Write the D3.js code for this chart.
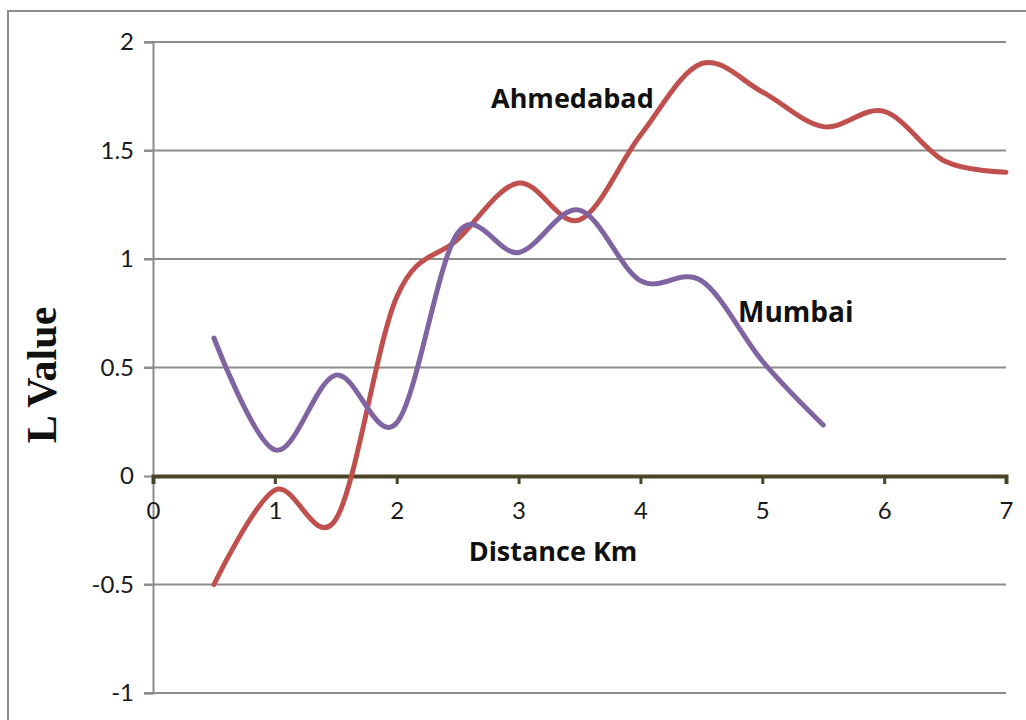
<!DOCTYPE html>
<html>
<head>
<meta charset="utf-8">
<script src="https://cdn.jsdelivr.net/npm/d3@7"></script>
<style>
  html, body { margin: 0; padding: 0; background: #fff; }
  svg { display: block; }
</style>
</head>
<body>
<svg id="chart" width="1026" height="720"></svg>
<script>
// Distance (km) at which the L function was evaluated
const distances = [0.5, 1, 1.5, 2, 2.5, 3, 3.5, 4, 4.5, 5, 5.5, 6, 6.5, 7];
// L values for each city
const ahmedabad = [-0.5, -0.065, -0.2, 0.825, 1.09, 1.35, 1.18, 1.57, 1.9, 1.77, 1.61, 1.68, 1.45, 1.4];
const mumbai = [0.636, 0.12, 0.465, 0.245, 1.12, 1.03, 1.225, 0.9, 0.9, 0.53, 0.235];
const xTicks = [0, 1, 2, 3, 4, 5, 6, 7];
const yTicks = [-1, -0.5, 0, 0.5, 1, 1.5, 2];

const svg = d3.select("#chart");

// outer frame
svg.append("rect")
  .attr("x", 8).attr("y", 11).attr("width", 1040).attr("height", 740)
  .attr("fill", "none").attr("stroke", "#8c8c8c").attr("stroke-width", 2);

const x = d3.scaleLinear().domain([0, 7]).range([153, 1006]);
const y = d3.scaleLinear().domain([-1, 2]).range([693, 42]);

// horizontal gridlines
svg.append("g")
  .selectAll("line")
  .data(yTicks.filter(d => d !== 0))
  .join("line")
  .attr("x1", x(0) - 9).attr("x2", x(7))
  .attr("y1", d => y(d)).attr("y2", d => y(d))
  .attr("stroke", "#8c8c8c").attr("stroke-width", 2);

// y axis
const yAxis = d3.axisLeft(y).tickValues(yTicks).tickSize(9).tickPadding(10)
  .tickFormat(d => String(d));
const gy = svg.append("g").attr("transform", `translate(${x(0)},0)`).call(yAxis);
gy.select(".domain").attr("stroke", "#8c8c8c").attr("stroke-width", 2);
gy.selectAll(".tick line").attr("stroke", "#8c8c8c").attr("stroke-width", 2);
gy.selectAll(".tick text")
  .attr("font-family", "Lato, 'Open Sans', sans-serif")
  .attr("font-size", 24).attr("fill", "#1a1a1a");

// x axis along y = 0
const xAxis = d3.axisBottom(x).tickValues(xTicks).tickSize(8).tickPadding(18)
  .tickFormat(d => String(d));
const gx = svg.append("g").attr("transform", `translate(0,${y(0)})`).call(xAxis);
gx.select(".domain").attr("stroke", "#4a4526").attr("stroke-width", 4);
gx.selectAll(".tick line").attr("stroke", "#4a4526").attr("stroke-width", 3);
gx.selectAll(".tick text")
  .attr("font-family", "Lato, 'Open Sans', sans-serif")
  .attr("font-size", 24).attr("fill", "#1a1a1a");

// smoothed series lines
const line = d3.line()
  .x(d => x(d[0]))
  .y(d => y(d[1]))
  .curve(d3.curveCardinal.tension(0));

const series = [
  { name: "Ahmedabad", values: ahmedabad, color: "#c0504d" },
  { name: "Mumbai", values: mumbai, color: "#8064a2" }
];

svg.append("g")
  .selectAll("path")
  .data(series)
  .join("path")
  .attr("d", s => line(s.values.map((v, i) => [distances[i], v])))
  .attr("fill", "none")
  .attr("stroke", s => s.color)
  .attr("stroke-width", 5)
  .attr("stroke-linecap", "round")
  .attr("stroke-linejoin", "round");

// series labels
const labelFont = "'Open Sans', Lato, sans-serif";
svg.append("text")
  .attr("x", 491).attr("y", 108)
  .attr("font-family", labelFont).attr("font-weight", "bold")
  .attr("font-size", 27).attr("fill", "#111")
  .text("Ahmedabad");
svg.append("text")
  .attr("x", 738).attr("y", 322)
  .attr("font-family", labelFont).attr("font-weight", "bold")
  .attr("font-size", 28).attr("fill", "#111")
  .text("Mumbai");

// axis titles
svg.append("text")
  .attr("x", 553).attr("y", 561)
  .attr("text-anchor", "middle")
  .attr("font-family", labelFont).attr("font-weight", "bold")
  .attr("font-size", 27).attr("fill", "#111")
  .text("Distance Km");
svg.append("text")
  .attr("transform", "translate(56,375) rotate(-90)")
  .attr("text-anchor", "middle")
  .attr("font-family", "'Liberation Serif', 'Times New Roman', serif")
  .attr("font-weight", "bold")
  .attr("font-size", 42).attr("fill", "#111")
  .text("L Value");
</script>
</body>
</html>
